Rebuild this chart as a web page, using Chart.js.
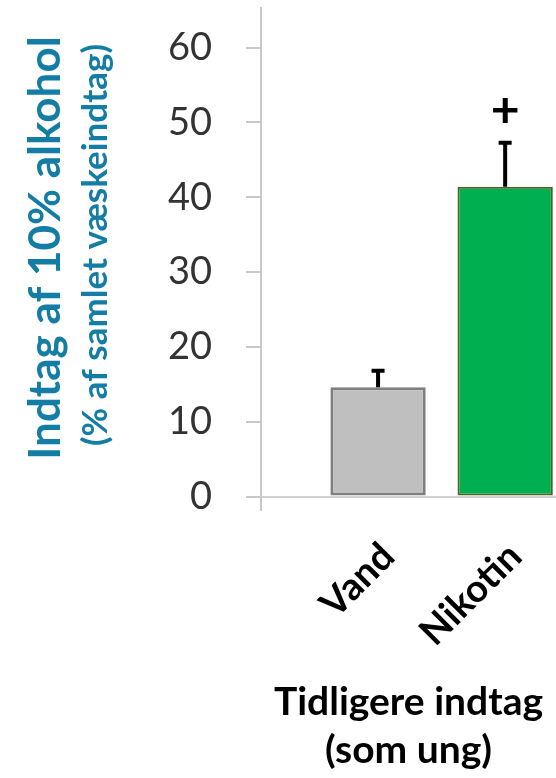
<!DOCTYPE html>
<html lang="da">
<head>
<meta charset="utf-8">
<title>Indtag af 10% alkohol</title>
<script src="https://cdn.jsdelivr.net/npm/chart.js@4.4.1/dist/chart.umd.min.js"></script>
<style>
  html, body { margin: 0; padding: 0; background: #ffffff; overflow: hidden; }
  #wrap { position: relative; width: 556px; height: 778px; }
</style>
</head>
<body>
<div id="wrap"><canvas id="chart"></canvas></div>
<script>
// Groups (prior intake as adolescent)
const categories = ['Vand', 'Nikotin'];
// Mean intake of 10% alcohol, % of total fluid intake
const intake = [14.6, 41.4];
// Upper error bar length (SEM)
const sem = [2.2, 5.9];
// Significance marker above each bar
const markers = ['', '+'];
// Y axis tick values
const yTicks = [0, 10, 20, 30, 40, 50, 60];
// Y axis caption: main line and unit line
const yCaption = ['Indtag af 10% alkohol', '(% af samlet væskeindtag)'];
// X axis caption
const xCaption = ['Tidligere indtag', '(som ung)'];

const teal = '#137da5';

// Vertical error bars plus significance markers on top of each bar
const errorBars = {
  id: 'errorBars',
  afterDatasetsDraw(chart) {
    const { ctx } = chart;
    const y = chart.scales.y;
    const meta = chart.getDatasetMeta(0);
    ctx.save();
    ctx.strokeStyle = '#000000';
    ctx.fillStyle = '#000000';
    ctx.lineWidth = 4;
    ctx.lineCap = 'butt';
    meta.data.forEach((bar, i) => {
      const top = y.getPixelForValue(intake[i] + sem[i]);
      ctx.beginPath();
      ctx.moveTo(bar.x, bar.y);
      ctx.lineTo(bar.x, top);
      ctx.moveTo(bar.x - 6.5, top);
      ctx.lineTo(bar.x + 6.5, top);
      ctx.stroke();
      if (markers[i]) {
        ctx.font = 'bold 50px Lato';
        ctx.textAlign = 'center';
        ctx.textBaseline = 'middle';
        ctx.fillText(markers[i], bar.x, top - 32);
      }
    });
    ctx.restore();
  }
};

// Two-line rotated caption for the value axis, drawn in the left margin
const valueCaption = {
  id: 'valueCaption',
  afterDraw(chart, args, opts) {
    const { ctx } = chart;
    opts.lines.forEach((line) => {
      ctx.save();
      ctx.translate(line.baselineX, line.centerY);
      ctx.rotate(-Math.PI / 2);
      ctx.font = line.font;
      ctx.fillStyle = opts.color;
      ctx.textAlign = 'center';
      ctx.textBaseline = 'alphabetic';
      ctx.fillText(line.text, 0, 0);
      ctx.restore();
    });
  }
};

// Axes keep their own box size; label overhang must not shrink the plot area
const noOverhang = (scale) => {
  scale.paddingTop = 0;
  scale.paddingBottom = 0;
  scale.paddingLeft = 0;
  scale.paddingRight = 0;
};

new Chart(document.getElementById('chart'), {
  type: 'bar',
  data: {
    datasets: [{
      data: intake.map((v, i) => ({ x: i + 1, y: v })),
      backgroundColor: ['#bfbfbf', '#00b050'],
      borderColor: ['#7f7f7f', '#4f6228'],
      borderWidth: [3, 2],
      borderSkipped: false,
      categoryPercentage: 1,
      barPercentage: 0.75
    }]
  },
  options: {
    responsive: true,
    maintainAspectRatio: false,
    animation: false,
    layout: { padding: { top: 8, left: 0, right: 0, bottom: 0 } },
    plugins: {
      legend: { display: false },
      tooltip: { enabled: false },
      title: { display: false },
      valueCaption: {
        color: teal,
        lines: [
          { text: yCaption[0], font: 'bold 44px Lato', baselineX: 60, centerY: 248 },
          { text: yCaption[1], font: 'bold 35px Lato', baselineX: 107, centerY: 245 }
        ]
      }
    },
    scales: {
      x: {
        type: 'linear',
        offset: false,
        min: 0.079,
        max: 2.40,
        afterBuildTicks: (scale) => {
          scale.ticks = categories.map((c, i) => ({ value: i + 1 }));
        },
        afterFit: (scale) => { scale.height = 268; noOverhang(scale); },
        grid: { display: false },
        border: { display: false },
        ticks: {
          autoSkip: false,
          minRotation: 45,
          maxRotation: 45,
          padding: 16,
          labelOffset: 10,
          color: '#000000',
          font: { family: 'Lato', size: 38, weight: 'bold', lineHeight: 1.2 },
          callback: (value, index) => categories[index]
        },
        title: {
          display: true,
          text: xCaption,
          color: '#000000',
          font: { family: 'Lato', size: 39, weight: 'bold', lineHeight: 1.24 },
          padding: { top: 0, bottom: 3 }
        }
      },
      y: {
        type: 'linear',
        position: 'left',
        min: -1.8,
        max: 65.3,
        afterBuildTicks: (scale) => {
          scale.ticks = yTicks.map(v => ({ value: v }));
        },
        afterFit: (scale) => { scale.width = 261; noOverhang(scale); },
        border: { display: true, color: '#c8c8c8', width: 2 },
        grid: {
          drawOnChartArea: true,
          drawTicks: true,
          tickLength: 15,
          lineWidth: 2,
          color: (ctx) => (ctx.tick && ctx.tick.value === 0 ? '#d0d0d0' : 'rgba(0,0,0,0)'),
          tickColor: '#c8c8c8'
        },
        ticks: {
          padding: 34,
          color: '#333333',
          font: { family: 'Lato', size: 38, weight: 'normal' }
        }
      }
    }
  },
  plugins: [errorBars, valueCaption]
});
</script>
</body>
</html>
